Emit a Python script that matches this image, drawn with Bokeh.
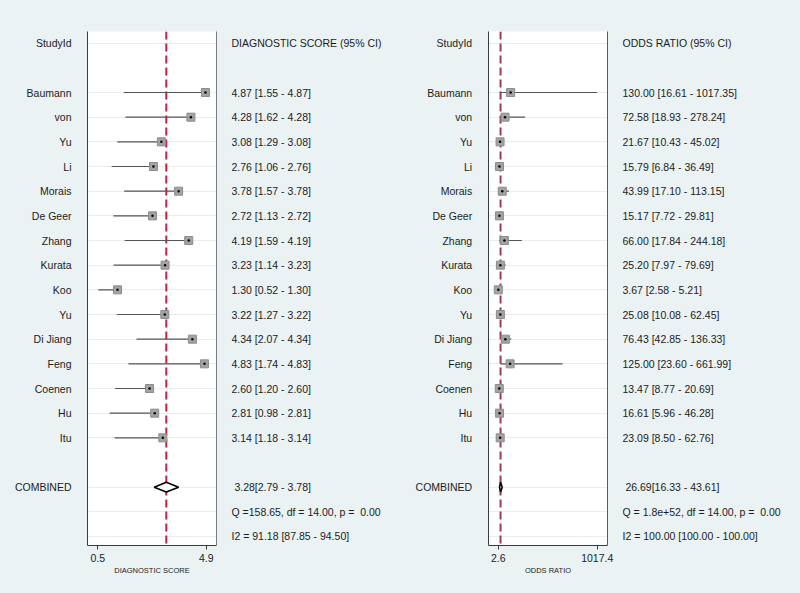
from bokeh.plotting import figure
from bokeh.layouts import row
from bokeh.models import (Range1d, LinearAxis, FixedTicker, Grid, Span,
                          NumeralTickFormatter, ColumnDataSource)
from bokeh.core.properties import value
from bokeh.embed import file_html
from bokeh.resources import INLINE

# ---- data -------------------------------------------------------------
studies = ["Baumann", "von", "Yu", "Li", "Morais", "De Geer", "Zhang", "Kurata",
           "Koo", "Yu", "Di Jiang", "Feng", "Coenen", "Hu", "Itu"]

ds_est = [4.87, 4.28, 3.08, 2.76, 3.78, 2.72, 4.19, 3.23, 1.30, 3.22, 4.34, 4.83, 2.60, 2.81, 3.14]
ds_lo = [1.55, 1.62, 1.29, 1.06, 1.57, 1.13, 1.59, 1.14, 0.52, 1.27, 2.07, 1.74, 1.20, 0.98, 1.18]
ds_hi = [4.87, 4.28, 3.08, 2.76, 3.78, 2.72, 4.19, 3.23, 1.30, 3.22, 4.34, 4.83, 2.60, 2.81, 3.14]
ds_combined = (3.28, 2.79, 3.78)
ds_q = "Q =158.65, df = 14.00, p =\u00a0 0.00"
ds_i2 = "I2 = 91.18 [87.85 - 94.50]"
ds_ticks = [0.5, 4.9]

or_est = [130.00, 72.58, 21.67, 15.79, 43.99, 15.17, 66.00, 25.20, 3.67, 25.08, 76.43, 125.00, 13.47, 16.61, 23.09]
or_lo = [16.61, 18.93, 10.43, 6.84, 17.10, 7.72, 17.84, 7.97, 2.58, 10.08, 42.85, 23.60, 8.77, 5.96, 8.50]
or_hi = [1017.35, 278.24, 45.02, 36.49, 113.15, 29.81, 244.18, 79.69, 5.21, 62.45, 136.33, 661.99, 20.69, 46.28, 62.76]
or_combined = (26.69, 16.33, 43.61)
or_q = "Q = 1.8e+52, df = 14.00, p =\u00a0 0.00"
or_i2 = "I2 = 100.00 [100.00 - 100.00]"
or_ticks = [2.6, 1017.4]

# ---- layout constants -------------------------------------------------
HEADER_ROW = 0
study_rows = list(range(2, 2 + len(studies)))
COMB_ROW = study_rows[-1] + 2
Q_ROW = COMB_ROW + 1
I2_ROW = COMB_ROW + 2
grid_rows = [HEADER_ROW] + study_rows + [COMB_ROW, Q_ROW, I2_ROW]

H = 593
TOP, BOTTOM = 31, 48
BG = "#eaf2f3"
FONT = value("Liberation Sans")
FS = "10.5px"
TXT = "#1c1c1c"

y_range = Range1d(start=20.365, end=-0.474)


def base_fig(width, left=0, right=0):
    p = figure(width=width, height=H, x_axis_location=None, y_axis_location=None,
               toolbar_location=None, output_backend="svg", y_range=y_range,
               min_border_left=left, min_border_right=right,
               min_border_top=TOP, min_border_bottom=BOTTOM)
    p.background_fill_color = BG
    p.border_fill_color = BG
    p.outline_line_color = None
    p.grid.visible = False
    return p


def label_column(width, x_right):
    p = base_fig(width)
    p.x_range = Range1d(0, width)
    names = ["StudyId"] + studies + ["COMBINED"]
    rows = [HEADER_ROW] + study_rows + [COMB_ROW]
    p.text(x=[x_right] * len(names), y=rows, text=names, text_font=FONT,
           text_font_size=FS, text_align="right", text_baseline="middle",
           text_color=TXT)
    return p


def value_column(width, header, est, lo, hi, comb, q, i2):
    p = base_fig(width)
    p.x_range = Range1d(0, width)
    texts = [header]
    texts += [f"{e:.2f} [{l:.2f} - {h:.2f}]" for e, l, h in zip(est, lo, hi)]
    texts += [f"\u00a0{comb[0]:.2f}[{comb[1]:.2f} - {comb[2]:.2f}]", q, i2]
    rows = [HEADER_ROW] + study_rows + [COMB_ROW, Q_ROW, I2_ROW]
    p.text(x=[0] * len(texts), y=rows, text=texts, text_font=FONT,
           text_font_size=FS, text_align="left", text_baseline="middle",
           text_color=TXT)
    return p


def forest(width, x_start, x_end, est, lo, hi, comb, ticks, xlabel,
           ref_color, left_col, right_col):
    p = base_fig(width, left=15, right=15)
    p.x_range = Range1d(x_start, x_end)
    p.background_fill_color = "white"

    # frame sides drawn as bare axes (no top edge)
    for side, col in (("left", left_col), ("right", right_col)):
        ax = LinearAxis(ticker=FixedTicker(ticks=[]), axis_line_color=col,
                        axis_line_width=1, major_tick_line_color=None,
                        minor_tick_line_color=None, major_label_text_font_size="0px")
        p.add_layout(ax, side)

    xa = LinearAxis(ticker=FixedTicker(ticks=ticks),
                    formatter=NumeralTickFormatter(format="0.0"),
                    axis_label=xlabel)
    xa.axis_line_color = left_col
    xa.major_tick_line_color = left_col
    xa.major_tick_out = 4
    xa.major_tick_in = 0
    xa.minor_tick_line_color = None
    xa.major_label_standoff = 4
    xa.major_label_text_font = "Liberation Sans"
    xa.major_label_text_font_size = FS
    xa.major_label_text_color = TXT
    xa.axis_label_text_font = "Liberation Sans"
    xa.axis_label_text_font_size = "7.5px"
    xa.axis_label_text_font_style = "normal"
    xa.axis_label_text_color = TXT
    xa.axis_label_standoff = 1
    p.add_layout(xa, "below")

    g = Grid(dimension=1, ticker=FixedTicker(ticks=grid_rows),
             grid_line_color="#ececec", grid_line_width=1)
    p.add_layout(g, "center")

    span = Span(location=comb[0], dimension="height", line_color=ref_color,
                line_dash="8 4", line_width=2, level="underlay")
    p.add_layout(span)

    src = ColumnDataSource(dict(y=study_rows, est=est, lo=lo, hi=hi))
    p.segment(x0="lo", y0="y", x1="hi", y1="y", source=src,
              line_color="#555555", line_width=1.2)
    p.scatter(x="est", y="y", source=src, marker="square", size=8,
              fill_color="#a3a3a3", line_color="#8c8c8c")
    p.scatter(x="est", y="y", source=src, marker="circle", size=2.5,
              fill_color="black", line_color=None)

    e, l, h = comb
    dh = 0.2
    p.patch(x=[l, e, h, e, l], y=[COMB_ROW, COMB_ROW - dh, COMB_ROW, COMB_ROW + dh, COMB_ROW],
            fill_color="white", line_color="black", line_width=1.6)
    return p


left_labels = label_column(72, 71)
left_plot = forest(159, 0.082, 5.318, ds_est, ds_lo, ds_hi, ds_combined, ds_ticks,
                   "DIAGNOSTIC SCORE", "#c8203c", "#3c3c3c", "#7a7a7a")
left_values = value_column(169, "DIAGNOSTIC SCORE (95% CI)", ds_est, ds_lo, ds_hi,
                           ds_combined, ds_q, ds_i2)

right_labels = label_column(73, 71.7)
right_plot = forest(149, -96.8, 1123.0, or_est, or_lo, or_hi, or_combined, or_ticks,
                    "ODDS RATIO", "#9c3a5a", "#3c3c3c", "#5a5a5a")
right_values = value_column(178, "ODDS RATIO (95% CI)", or_est, or_lo, or_hi,
                            or_combined, or_q, or_i2)

layout = row(left_labels, left_plot, left_values, right_labels, right_plot, right_values,
             spacing=0)

html = file_html(layout, INLINE)
# page background matches the panels so no seams show between figures
html = html.replace("<head>", "<head><style>html,body{margin:0;background:%s;}</style>" % BG, 1)
open("out.html", "w").write(html)
